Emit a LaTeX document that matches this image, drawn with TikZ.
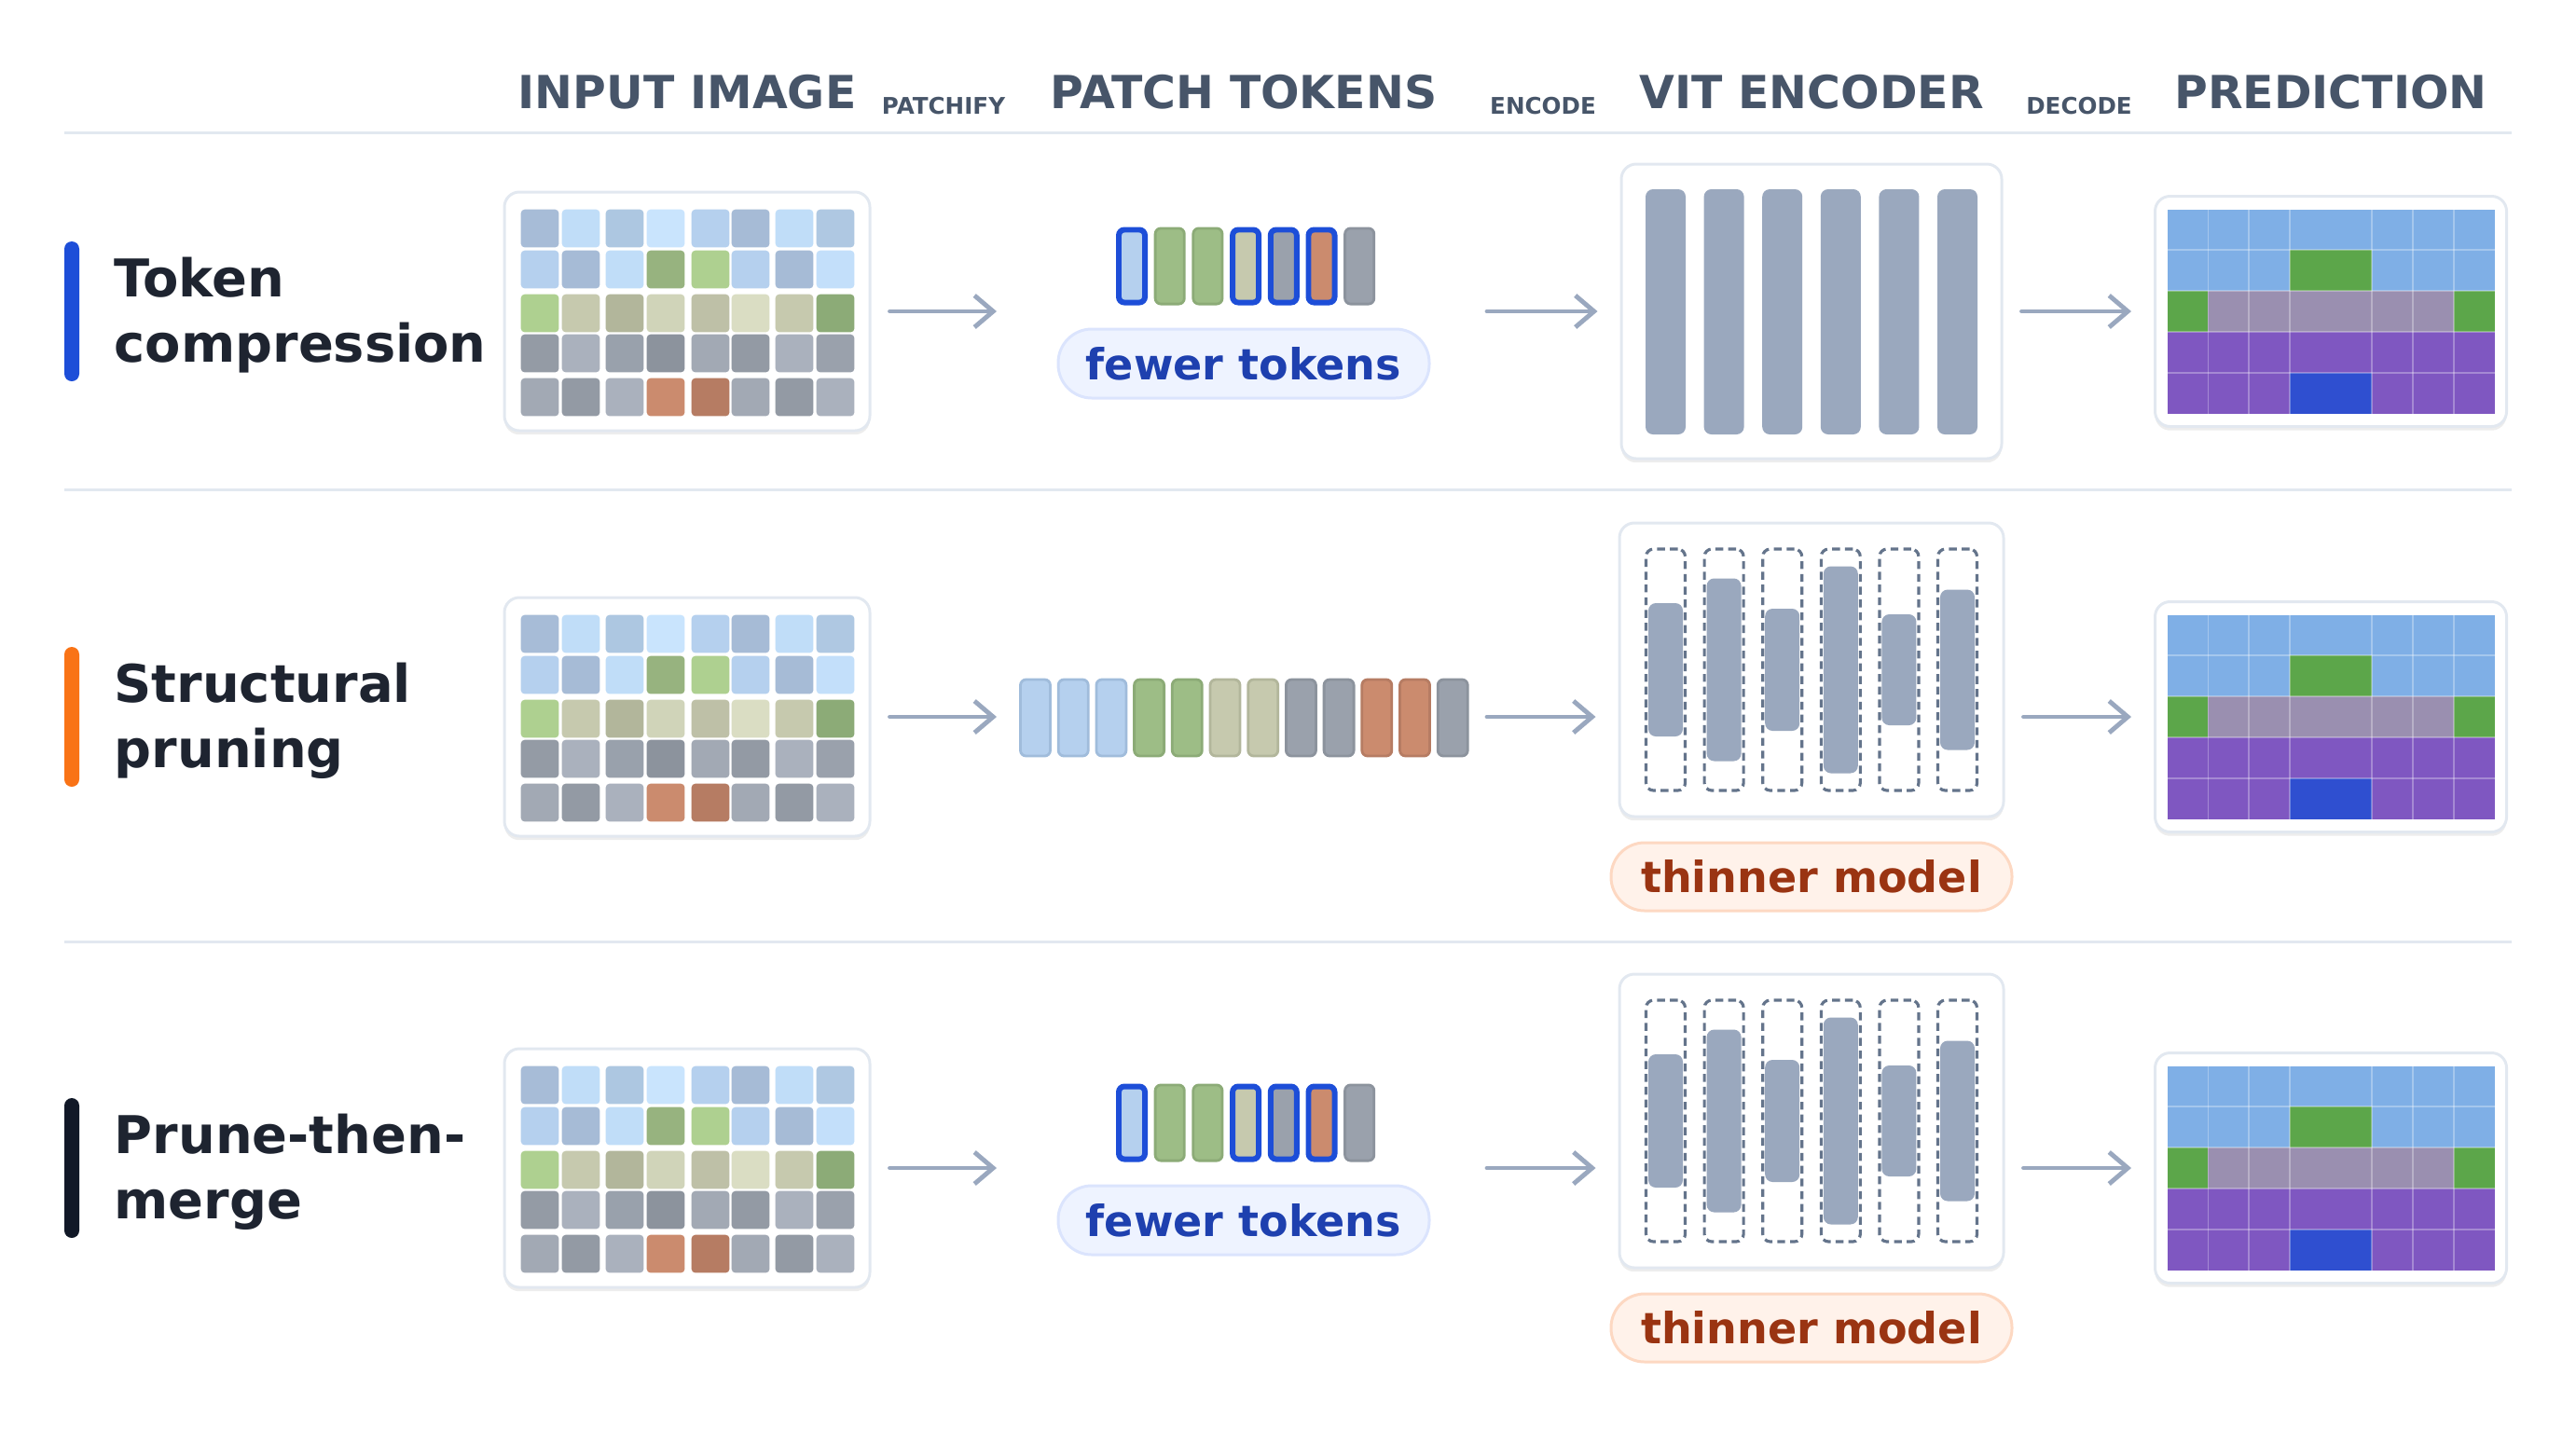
\documentclass[tikz,border=0pt]{standalone}
\usepackage{fontspec}
\setmainfont{DejaVu Sans}
\usepackage{tikz}
\usetikzlibrary{arrows.meta,calc,shadows}
\definecolor{headSlate}{HTML}{475569}
\definecolor{ruleGray}{HTML}{E2E8F0}
\definecolor{titleInk}{HTML}{1E2430}
\definecolor{barBlue}{HTML}{1D4ED8}
\definecolor{barOrange}{HTML}{F97316}
\definecolor{barInk}{HTML}{111827}
\definecolor{cardEdge}{HTML}{E2E8F0}
\definecolor{arrowGray}{HTML}{9AA8BF}
\definecolor{keepBlue}{HTML}{1D4ED8}
\definecolor{tokBlue}{HTML}{B5D0EE}
\definecolor{tokBlueEdge}{HTML}{A0BCDB}
\definecolor{tokGreen}{HTML}{9DBD86}
\definecolor{tokGreenEdge}{HTML}{8CAB77}
\definecolor{tokSand}{HTML}{C6C9AE}
\definecolor{tokSandEdge}{HTML}{B2B69B}
\definecolor{tokGray}{HTML}{9AA1AC}
\definecolor{tokGrayEdge}{HTML}{8C939D}
\definecolor{tokRust}{HTML}{CB8B6E}
\definecolor{tokRustEdge}{HTML}{B67C63}
\definecolor{layerGray}{HTML}{9AA8BE}
\definecolor{slotDash}{HTML}{64748B}
\definecolor{fewFill}{HTML}{EEF3FF}
\definecolor{fewEdge}{HTML}{DBE4FD}
\definecolor{fewInk}{HTML}{1E40AF}
\definecolor{thinFill}{HTML}{FFF2EA}
\definecolor{thinEdge}{HTML}{FDD8C2}
\definecolor{thinInk}{HTML}{9A3412}
\definecolor{predSky}{HTML}{7FAFE6}
\definecolor{predGrass}{HTML}{5CA64A}
\definecolor{predRoad}{HTML}{9A8FB0}
\definecolor{predViolet}{HTML}{7F57C1}
\definecolor{predBlue}{HTML}{2F4FD0}
\newcommand{\patchcolors}{A7BCD7,C0DDF8,ADC7E1,C9E4FD,B5D0EE,A6BBD6,C0DDF8,AFC8E2,B5D0EE,A6BBD6,C0DDF8,97B37F,AED090,B5D0EE,A6BBD6,C3DFFA,AED090,C6C9AE,B2B69B,D0D4B9,BEC0A7,DADDC3,C6C9AE,8CAB77,949BA5,AAB1BD,99A1AC,8C939D,A2A9B4,939AA4,AAB1BD,9AA1AC,A2A9B4,939AA4,AAB1BD,CB8B6E,B67C63,A2A9B4,939AA4,AAB1BD}
\newcommand{\predcolors}{predSky,predSky,predSky,predSky,predSky,predSky,predSky,predSky,predSky,predSky,predSky,predGrass,predGrass,predSky,predSky,predSky,predGrass,predRoad,predRoad,predRoad,predRoad,predRoad,predRoad,predGrass,predViolet,predViolet,predViolet,predViolet,predViolet,predViolet,predViolet,predViolet,predViolet,predViolet,predViolet,predBlue,predBlue,predViolet,predViolet,predViolet}
\tikzset{
  flow/.style={-{Straight Barb[length=0.2cm, width=0.34cm]}, line width=1.4pt,
    draw=arrowGray, line cap=round, line join=round,
    shorten <=0.2cm, shorten >=0.24cm},
  rule line/.style={draw=ruleGray, line width=0.85pt},
  stage head/.style={font=\fontsize{13.9}{16}\selectfont\bfseries,
    text=headSlate, anchor=base, inner sep=0pt},
  stage verb/.style={font=\fontsize{7}{8}\selectfont\bfseries,
    text=headSlate, anchor=base, inner sep=0pt},
  row title/.style={font=\fontsize{15.9}{19.9}\selectfont\bfseries,
    text=titleInk, anchor=base west, inner sep=0pt},
  row bar/.style={rounded corners=0.08cm, minimum width=0.16cm,
    minimum height=1.5cm, inner sep=0pt},
  card/.style={draw=cardEdge, line width=0.85pt, fill=white,
    rounded corners=0.16cm, inner sep=0pt,
    drop shadow={shadow xshift=0pt, shadow yshift=-1.2pt, opacity=0.07, fill=black}},
  patch/.style={rounded corners=0.04cm, minimum width=0.407cm,
    minimum height=0.407cm, inner sep=0pt, anchor=north west},
  token/.style={rounded corners=0.06cm, inner sep=0pt, line width=0.8pt},
  layer/.style={fill=layerGray, rounded corners=0.08cm, inner sep=0pt},
  layer slot/.style={draw=slotDash, dash pattern=on 2.4pt off 1.5pt,
    line width=0.9pt, rounded corners=0.08cm, inner sep=0pt,
    minimum width=0.42cm, minimum height=2.59cm},
  pill/.style={rounded corners=0.36cm, line width=0.85pt, inner sep=0pt,
    font=\fontsize{13.1}{15}\selectfont\bfseries},
  fewer pill/.style={pill, fill=fewFill, draw=fewEdge, text=fewInk,
    minimum width=3.98cm, minimum height=0.74cm},
  thin pill/.style={pill, fill=thinFill, draw=thinEdge, text=thinInk,
    minimum width=4.30cm, minimum height=0.73cm},
  map grid/.style={draw=white, draw opacity=0.3, line width=0.5pt}
}
\begin{document}
\begin{tikzpicture}[x=1cm, y=-1cm]
  \useasboundingbox (0,0) rectangle (27.63,15.32);
  % column heads
  \node[stage head] (hImg) at (7.37,1.16) {INPUT IMAGE};
  \node[stage verb] (vPatch) at (10.12,1.22) {PATCHIFY};
  \node[stage head] (hTok) at (13.34,1.16) {PATCH TOKENS};
  \node[stage verb] (vEnc) at (16.55,1.22) {ENCODE};
  \node[stage head] (hVit) at (19.43,1.16) {VIT ENCODER};
  \node[stage verb] (vDec) at (22.30,1.22) {DECODE};
  \node[stage head] (hPred) at (25.00,1.16) {PREDICTION};
  \draw[rule line] (0.69,1.42) -- (26.94,1.42);
  \draw[rule line] (0.69,5.25) -- (26.94,5.25);
  \draw[rule line] (0.69,10.10) -- (26.94,10.10);

  % parts every row has
  \foreach \k/\yy/\barc/\ta/\tb in {1/3.34/barBlue/Token/compression,
      2/7.69/barOrange/Structural/pruning, 3/12.53/barInk/Prune-then-/merge} {
    \node[row bar, fill=\barc] (bar\k) at (0.77,\yy) {};
    \node[row title] (title\k-a) at (1.22,{\yy-0.16}) {\ta};
    \node[row title] (title\k-b) at (1.22,{\yy+0.54}) {\tb};
    \node[card, minimum width=3.92cm, minimum height=2.56cm] (img\k) at (7.37,\yy) {};
    \foreach \cc [count=\n from 0] in \patchcolors {
      \pgfmathtruncatemacro\ci{mod(\n,8)}
      \pgfmathtruncatemacro\cj{div(\n,8)}
      \pgfmathsetmacro\cx{{0.17,0.61,1.08,1.52,2.00,2.43,2.90,3.34}[\ci]}
      \pgfmathsetmacro\cy{{0.18,0.62,1.09,1.52,1.99}[\cj]}
      \definecolor{patchc}{HTML}{\cc}
      \node[patch, fill=patchc] (img\k-\n) at ({5.41+\cx},{\yy-1.28+\cy}) {};
    }
    \coordinate (tokin\k) at (10.93,\yy);
    \coordinate (tokout\k) at (15.75,\yy);
    \node[card, minimum width=3.77cm, minimum height=2.47cm] (pred\k) at (25.00,\yy) {};
    \foreach \pc [count=\n from 0] in \predcolors {
      \pgfmathtruncatemacro\ci{mod(\n,8)}
      \pgfmathtruncatemacro\cj{div(\n,8)}
      \fill[\pc] ({23.245+0.43875*\ci},{\yy-1.095+0.438*\cj}) rectangle ++(0.43875,0.438);
    }
    \foreach \i in {1,2,3,5,6,7}
      \draw[map grid] ({23.245+0.43875*\i},{\yy-1.095}) -- ++(0,2.19);
    \foreach \j in {1,...,4}
      \draw[map grid] (23.245,{\yy-1.095+0.438*\j}) -- ++(3.51,0);
  }

  % kept tokens, rows 1 and 3
  \foreach \k/\yy in {1/3.34, 3/12.53} {
    \foreach \tf/\te/\tw [count=\i] in {tokBlue/keepBlue/1.7pt,
        tokGreen/tokGreenEdge/0.8pt, tokGreen/tokGreenEdge/0.8pt,
        tokSand/keepBlue/1.7pt, tokGray/keepBlue/1.7pt,
        tokRust/keepBlue/1.7pt, tokGray/tokGrayEdge/0.8pt}
      \node[token, fill=\tf, draw=\te, line width=\tw,
        minimum width={0.34cm-\tw}, minimum height={0.84cm-\tw}]
        (tok\k-\i) at ({12.14+0.407*(\i-1)},{\yy-0.485}) {};
    \node[fewer pill] (fewer\k) at (13.34,{\yy+0.56}) {fewer tokens};
  }

  % all tokens, row 2
  \foreach \tf/\te [count=\i] in {tokBlue/tokBlueEdge, tokBlue/tokBlueEdge,
      tokBlue/tokBlueEdge, tokGreen/tokGreenEdge, tokGreen/tokGreenEdge,
      tokSand/tokSandEdge, tokSand/tokSandEdge, tokGray/tokGrayEdge,
      tokGray/tokGrayEdge, tokRust/tokRustEdge, tokRust/tokRustEdge,
      tokGray/tokGrayEdge}
    \node[token, fill=\tf, draw=\te, minimum width=0.32cm, minimum height=0.82cm]
      (tok2-\i) at ({11.105+0.407*(\i-1)},7.70) {};

  % full encoder, row 1
  \node[card, minimum width=4.08cm, minimum height=3.16cm] (enc1) at (19.43,3.34) {};
  \foreach \i in {0,...,5}
    \node[layer, minimum width=0.43cm, minimum height=2.63cm] (enc1-\i)
      at ({17.865+0.626*\i},3.345) {};

  % thinner encoder, rows 2 and 3
  \foreach \k/\yy in {2/7.69, 3/12.53} {
    \node[card, minimum width=4.12cm, minimum height=3.15cm] (enc\k) at (19.43,{\yy-0.505}) {};
    \foreach \h [count=\i] in {1.43,1.96,1.31,2.22,1.19,1.72} {
      \node[layer slot] (slot\k-\i) at ({17.865+0.626*(\i-1)},{\yy-0.505}) {};
      \node[layer, minimum width=0.37cm, minimum height=\h cm] (enc\k-\i) at (slot\k-\i) {};
    }
    \node[thin pill] (thin\k) at (19.43,{\yy+1.715}) {thinner model};
  }

  % connectors
  \foreach \k in {1,2,3} {
    \draw[flow] (img\k) -- (tokin\k);
    \draw[flow] (tokout\k) -- (tokout\k -| enc\k.west);
    \draw[flow] (tokout\k -| enc\k.east) -- (pred\k);
  }
\end{tikzpicture}
\end{document}
